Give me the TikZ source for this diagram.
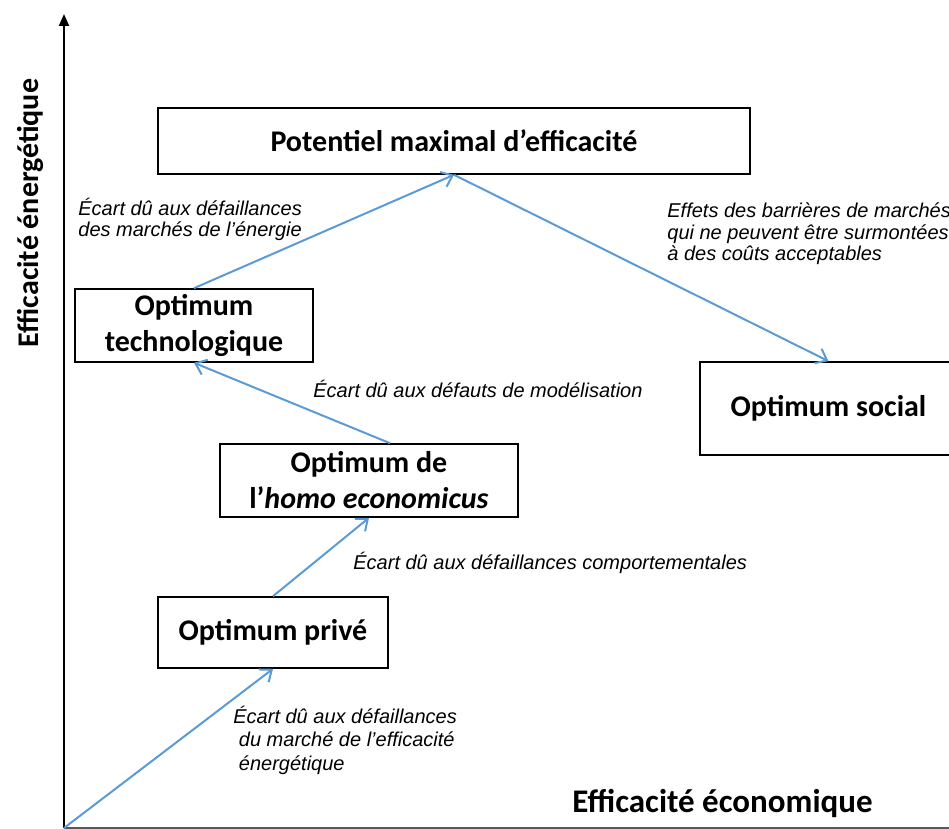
\documentclass[tikz,border=0pt]{standalone}
\usepackage{fontspec}
\setmainfont{Liberation Sans}
\newfontfamily\calibri{Carlito}
\usepackage{xcolor}
\usetikzlibrary{arrows.meta}

\definecolor{gapblue}{RGB}{91,155,213}
\definecolor{axisgray}{RGB}{89,89,89}

\begin{document}
\begin{tikzpicture}[
  x=0.5pt, y=-0.5pt,
  optbox/.style={draw, line width=0.8pt, fill=white, inner sep=0pt, align=center,
    font=\calibri\bfseries\fontsize{15}{18}\selectfont},
  axlbl/.style={inner sep=0pt, font=\calibri\bfseries\fontsize{15}{18}\selectfont},
  gaplbl/.style={inner sep=0pt, align=left, font=\itshape\fontsize{10}{10.5}\selectfont},
  gap/.style={gapblue, line width=1pt, -{Straight Barb[length=5pt,width=8pt]}},
]

\useasboundingbox (0,0) rectangle (949,829);

% axes
\coordinate (o) at (64,828);
\coordinate (ytop) at (64,14);
\coordinate (xend) at (949,828);
\draw [line width=1pt, -{Triangle[length=6pt,width=5pt]}] (o) -- (ytop);
\draw [axisgray, line width=1pt] (o) -- (xend);

\node [axlbl, rotate=90] (ylbl) at (30,213) {Efficacité énergétique};
\node [axlbl, anchor=base west, font=\calibri\bfseries\fontsize{16.5}{19}\selectfont] (xlbl) at (572,812)
  {Efficacité économique};

% optimums
\node [optbox, minimum width=296pt, minimum height=33pt] (pot) at (454,141)
  {Potentiel maximal d’efficacité};
\node [optbox, minimum width=119pt, minimum height=36.5pt] (tech) at (194,325.5)
  {Optimum\\technologique};
\node [optbox, minimum width=128.5pt, minimum height=46.5pt] (soc) at (828.5,408.5)
  {Optimum social};
\node [optbox, minimum width=149pt, minimum height=36.5pt] (homo) at (369,480.5)
  {Optimum de\\l’\textit{homo economicus}};
\node [optbox, minimum width=115pt, minimum height=35.5pt] (priv) at (273,632.5)
  {Optimum privé};

% gaps
\draw [gap] (o) -- (priv.south);
\draw [gap] (priv.north) -- (homo.south);
\draw [gap] ([xshift=10.5pt]homo.north) -- (tech.south);
\draw [gap] (tech.north) -- (pot.south);
\draw [gap] (pot.south) -- (soc.north);

% base of a multi-line node = last line
\node [gaplbl, anchor=base west] (g1) at (78,236)
  {Écart dû aux défaillances\\des marchés de l’énergie};
\node [gaplbl, anchor=base west, font=\itshape\fontsize{10}{10.75}\selectfont] (g2) at (667,261)
  {Effets des barrières de marchés\\qui ne peuvent être surmontées\\à des coûts acceptables};
\node [gaplbl, anchor=base west] (g3) at (313,397)
  {Écart dû aux défauts de modélisation};
\node [gaplbl, anchor=base west] (g4) at (353,569)
  {Écart dû aux défaillances comportementales};
\node [gaplbl, anchor=base west, font=\itshape\fontsize{10}{11.75}\selectfont] (g5) at (233,770)
  {Écart dû aux défaillances\\~du marché de l’efficacité\\~énergétique};

\end{tikzpicture}
\end{document}
